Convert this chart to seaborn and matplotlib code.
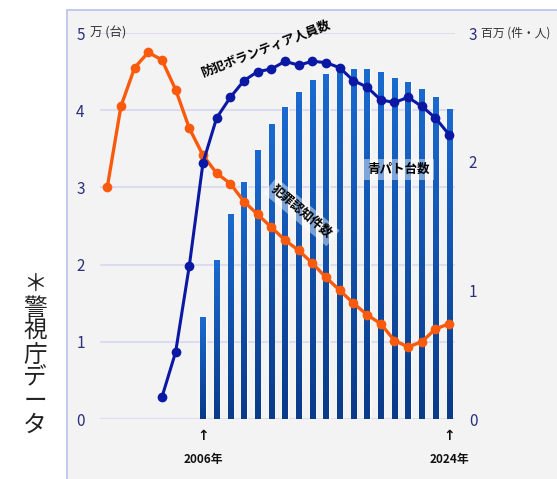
import seaborn as sns
import pandas as pd
import numpy as np
import matplotlib.pyplot as plt
from matplotlib.patches import Rectangle
from matplotlib.colors import LinearSegmentedColormap

# 犯罪認知件数 (百万件), 1999-2024
crime_years = list(range(1999, 2025))
crime = [1.80, 2.43, 2.73, 2.85, 2.79, 2.56, 2.26, 2.05, 1.91, 1.83, 1.69, 1.59, 1.49,
         1.39, 1.31, 1.21, 1.10, 1.00, 0.90, 0.81, 0.74, 0.61, 0.56, 0.60, 0.70, 0.74]

# 防犯ボランティア人員数 (百万人), 2003-2024
vol_years = list(range(2003, 2025))
volunteers = [0.17, 0.52, 1.19, 1.99, 2.34, 2.50, 2.63, 2.70, 2.72, 2.78, 2.75,
              2.78, 2.77, 2.73, 2.63, 2.58, 2.48, 2.46, 2.50, 2.43, 2.34, 2.21]

# 青パト台数 (万台), 2006-2024
bar_years = list(range(2006, 2025))
patrol = [1.32, 2.06, 2.66, 3.07, 3.49, 3.82, 4.04, 4.24, 4.39, 4.47, 4.58,
          4.54, 4.53, 4.50, 4.42, 4.36, 4.27, 4.17, 4.02]

left_ticks = [0, 1, 2, 3, 4, 5]
right_ticks = [0, 1, 2, 3]

sns.set_theme(style="white")
plt.rcParams['font.family'] = ['Noto Sans CJK JP', 'DejaVu Sans']

orange = "#fa5a0c"
navy = "#0a18a4"
bar_col = "#1760c2"
tick_col = "#2b2f7c"

fig = plt.figure(figsize=(5.57, 4.79), dpi=100)
W, H = 557, 479

# light panel with thin border
fig.patches.append(Rectangle((67 / W, -0.1), 1.0, (479 - 10) / H + 0.1,
                             transform=fig.transFigure, facecolor="#f3f3f4",
                             edgecolor="#b9c0ec", lw=1.2, zorder=-1))

ax = fig.add_axes([100 / W, (H - 419) / H, 355 / W, 386 / H])
ax.set_facecolor("none")

bars = pd.DataFrame({"year": bar_years, "patrol": patrol})
sns.barplot(data=bars, x="year", y="patrol", native_scale=True, width=0.38,
            color=bar_col, saturation=1, ax=ax, zorder=2)

# vertical gradient on the bars (light top, dark bottom)
grad_cmap = LinearSegmentedColormap.from_list("bar", ["#0a3a88", "#1a6ad0"])
grad = np.linspace(0, 1, 256).reshape(-1, 1)
for p in list(ax.patches):
    x0, w, h = p.get_x(), p.get_width(), p.get_height()
    im = ax.imshow(grad, cmap=grad_cmap, origin="lower", aspect="auto",
                   extent=[x0, x0 + w, 0, h], zorder=2.1)
    im.set_clip_path(p)
ax.set_xlim(1998.47, 2024.43)
ax.set_ylim(0, 5)

ax.set_yticks(left_ticks)
ax.set_yticklabels([str(t) for t in left_ticks], color=tick_col, fontsize=11)
ax.yaxis.grid(True, color="#dcdcf0", lw=1.5, zorder=0)
ax.set_axisbelow(True)
ax.tick_params(axis="y", length=0, pad=11)
ax.set_xticks([])
ax.set_xlabel("")
ax.set_ylabel("")
for s in ax.spines.values():
    s.set_visible(False)

ax2 = ax.twinx()
ax2.set_ylim(0, 3)
ax2.set_yticks(right_ticks)
ax2.set_yticklabels([str(t) for t in right_ticks], color=tick_col, fontsize=11)
ax2.tick_params(axis="y", length=0, pad=10)
for s in ax2.spines.values():
    s.set_visible(False)

crime_df = pd.DataFrame({"year": crime_years, "val": crime})
vol_df = pd.DataFrame({"year": vol_years, "val": volunteers})
sns.lineplot(data=crime_df, x="year", y="val", color=orange, lw=2.4, marker="o",
             markersize=7, markeredgewidth=0, ax=ax2, zorder=4, clip_on=False)
sns.lineplot(data=vol_df, x="year", y="val", color=navy, lw=2.2, marker="o",
             markersize=7, markeredgewidth=0, ax=ax2, zorder=5, clip_on=False)
ax2.set_xlabel("")
ax2.set_ylabel("")
ax2.set_xlim(1998.47, 2024.43)

# unit labels
fig.text(90 / W, 1 - 33 / H, "万 (台)", fontsize=9, color="#333333", va="center")
fig.text(481 / W, 1 - 33 / H, "百万 (件・人)", fontsize=8.5, color="#333333", va="center")

# series labels
ax2.text(2010.6, 2.88, "防犯ボランティア人員数", rotation=21, fontsize=9,
         fontweight="bold", color="black", ha="center", va="center", zorder=6)
ax2.text(2013.2, 1.61, "犯罪認知件数", rotation=-40, fontsize=9,
         fontweight="bold", color="black", ha="center", va="center", zorder=6,
         bbox=dict(boxstyle="square,pad=0.3", fc="white", ec="none", alpha=0.45))
ax2.text(2020.3, 1.94, "青パト台数", fontsize=9, fontweight="bold", color="black",
         ha="center", va="center", zorder=6,
         bbox=dict(boxstyle="square,pad=0.3", fc="white", ec="none", alpha=0.45))

# year markers
for yr, px in [(2006, 203), (2024, 449)]:
    fig.text(px / W, 1 - 436 / H, "↑", fontsize=10, ha="center", va="center",
             fontweight="bold", color="#111111", family=['DejaVu Sans'])
    fig.text(px / W, 1 - 459 / H, f"{yr}年", fontsize=8.5, ha="center", va="center",
             fontweight="bold", color="#111111")

# source note
fig.text(35 / W, 1 - 355 / H, "\n".join("＊警視庁データ"), fontsize=17,
         ha="center", va="center", linespacing=1.02, color="#222222")

fig.savefig("out.png", dpi=100)
